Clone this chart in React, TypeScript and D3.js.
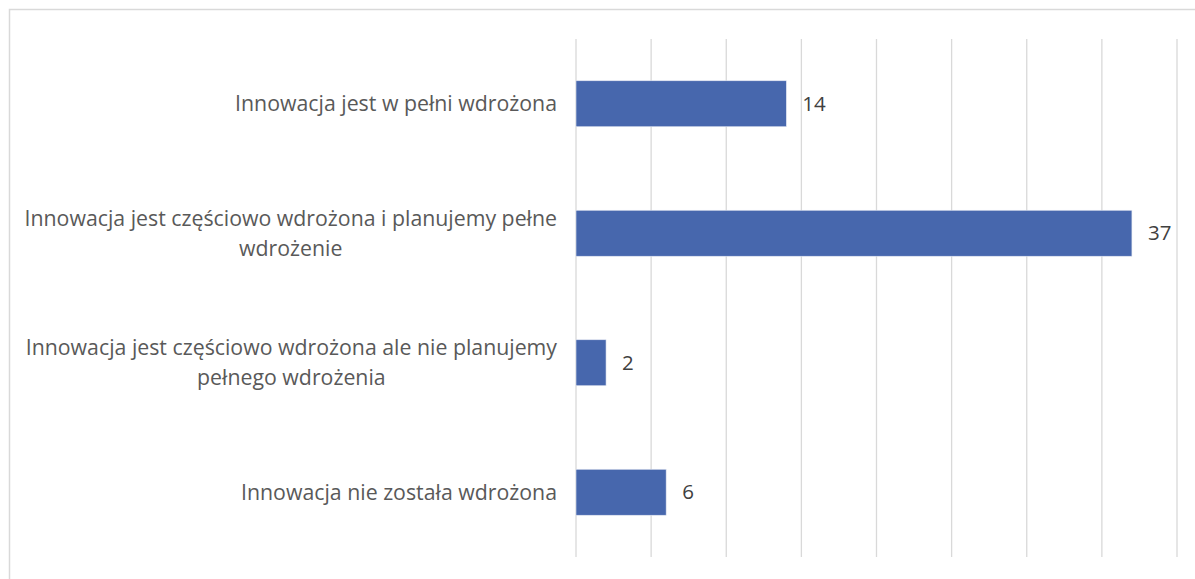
import React, { useEffect, useRef } from "react";
import * as d3 from "d3";

const categories: string[][] = [
  ["Innowacja jest w pełni wdrożona"],
  ["Innowacja jest częściowo wdrożona i planujemy pełne", "wdrożenie"],
  ["Innowacja jest częściowo wdrożona ale nie planujemy", "pełnego wdrożenia"],
  ["Innowacja nie została wdrożona"],
];
const values: number[] = [14, 37, 2, 6];
const xTicks: number[] = [0, 5, 10, 15, 20, 25, 30, 35, 40];

const W = 1195;
const H = 579;
const FONT = "'Open Sans', sans-serif";

export default function App() {
  const ref = useRef<SVGSVGElement>(null);

  useEffect(() => {
    const svg = d3.select(ref.current);
    svg.selectAll("*").remove();

    const x = d3.scaleLinear().domain([0, 40]).range([576, 1177]);
    const y = d3
      .scaleBand<number>()
      .domain(d3.range(categories.length))
      .range([39, 557])
      .paddingInner(0.645)
      .paddingOuter(0.3225);

    // outer border
    svg
      .append("rect")
      .attr("x", 9.5)
      .attr("y", 9.5)
      .attr("width", 1300)
      .attr("height", 700)
      .attr("fill", "none")
      .attr("stroke", "#d9d9d9")
      .attr("stroke-width", 1.5);

    // gridlines
    svg
      .append("g")
      .selectAll("line")
      .data(xTicks)
      .join("line")
      .attr("x1", (d) => x(d))
      .attr("x2", (d) => x(d))
      .attr("y1", 39)
      .attr("y2", 557)
      .attr("stroke", "#d9d9d9")
      .attr("stroke-width", 1.3);

    // bars
    svg
      .append("g")
      .selectAll("rect")
      .data(values)
      .join("rect")
      .attr("x", x(0))
      .attr("y", (_, i) => y(i)!)
      .attr("width", (d) => x(d) - x(0))
      .attr("height", y.bandwidth())
      .attr("fill", "#4767ad")
      .attr("stroke", "#e4e8f2")
      .attr("stroke-width", 0.6);

    // value labels
    svg
      .append("g")
      .selectAll("text")
      .data(values)
      .join("text")
      .attr("x", (d) => x(d) + 16)
      .attr("y", (_, i) => y(i)! + y.bandwidth() / 2)
      .attr("dy", "0.35em")
      .attr("font-family", FONT)
      .attr("font-size", 20.5)
      .attr("fill", "#404040")
      .text((d) => String(d));

    // category labels
    const labelRight = 557;
    const lineH = 30;
    categories.forEach((lines, i) => {
      const cy = y(i)! + y.bandwidth() / 2;
      const g = svg.append("g");
      const texts = lines.map((ln) =>
        g
          .append("text")
          .attr("font-family", FONT)
          .attr("font-size", 21.3)
          .attr("fill", "#595959")
          .attr("text-anchor", "middle")
          .attr("dy", "0.35em")
          .text(ln)
      );
      const widths = texts.map((t) => (t.node() as SVGTextElement).getComputedTextLength());
      const maxW = Math.max(...widths);
      const cx = labelRight - maxW / 2;
      const top = cy - ((lines.length - 1) * lineH) / 2;
      texts.forEach((t, j) => t.attr("x", cx).attr("y", top + j * lineH));
    });
  }, []);

  return (
    <svg
      ref={ref}
      width={W}
      height={H}
      style={{ position: "absolute", left: 0, top: 0, background: "#fff" }}
    />
  );
}
